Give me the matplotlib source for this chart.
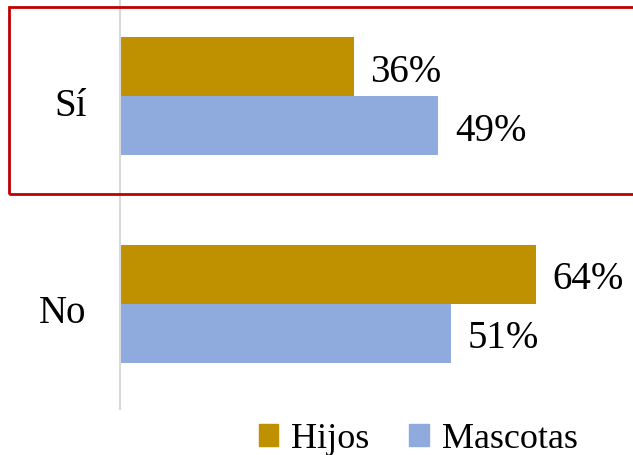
import matplotlib
matplotlib.use("Agg")
import matplotlib.pyplot as plt
import matplotlib.transforms as mtransforms
import numpy as np
from matplotlib.patches import Rectangle, Patch

categories = ["No", "Sí"]
hijos = [0.64, 0.36]
mascotas = [0.51, 0.49]
series_names = ["Hijos", "Mascotas"]

gold = "#BF9000"
blue = "#8FAADC"

plt.rcParams['font.family'] = ['Liberation Serif', 'DejaVu Serif']

fig = plt.figure(figsize=(6.33, 4.56), dpi=100)
ax = fig.add_axes([120 / 633, 1 - 410 / 456, 1 - 120 / 633, 410 / 456])

y = np.arange(len(categories))
h = 0.284
b1 = ax.barh(y + h / 2, hijos, height=h, color=gold)
b2 = ax.barh(y - h / 2, mascotas, height=h, color=blue)

for bars, vals in [(b1, hijos), (b2, mascotas)]:
    for bar, v in zip(bars, vals):
        ax.annotate(f"{v:.0%}", (v, bar.get_y() + bar.get_height() / 2),
                    xytext=(12, -3), textcoords="offset points",
                    va="center", ha="left", fontsize=28)

ax.set_xlim(0, 0.79)
ax.set_ylim(-0.505, 1.469)
ax.set_yticks(y)
ax.set_yticklabels(categories, fontsize=28)
ax.tick_params(axis="y", length=0, pad=24)
# nudge category labels down a little
shift = mtransforms.ScaledTranslation(0, -3 / 72, fig.dpi_scale_trans)
for lbl in ax.get_yticklabels():
    lbl.set_transform(lbl.get_transform() + shift)
ax.set_xticks([])
for s in ["top", "right", "bottom"]:
    ax.spines[s].set_visible(False)
ax.spines["left"].set_color("#D9D9D9")
ax.spines["left"].set_linewidth(1.5)

# red highlight box around "Sí"
box = Rectangle((9 / 633, 1 - 195 / 456), 1, (195 - 8) / 456,
                transform=fig.transFigure, fill=False,
                edgecolor="#C00000", linewidth=2, zorder=5)
fig.patches.append(box)

handles = [Patch(color=gold, label=series_names[0]),
           Patch(color=blue, label=series_names[1])]
fig.legend(handles=handles, loc="center", bbox_to_anchor=(418 / 633, 1 - 440 / 456),
           ncol=2, frameon=False, fontsize=26, handlelength=0.55, handleheight=0.55,
           handletextpad=0.35, columnspacing=1.1)

fig.savefig("out.png", dpi=100)
